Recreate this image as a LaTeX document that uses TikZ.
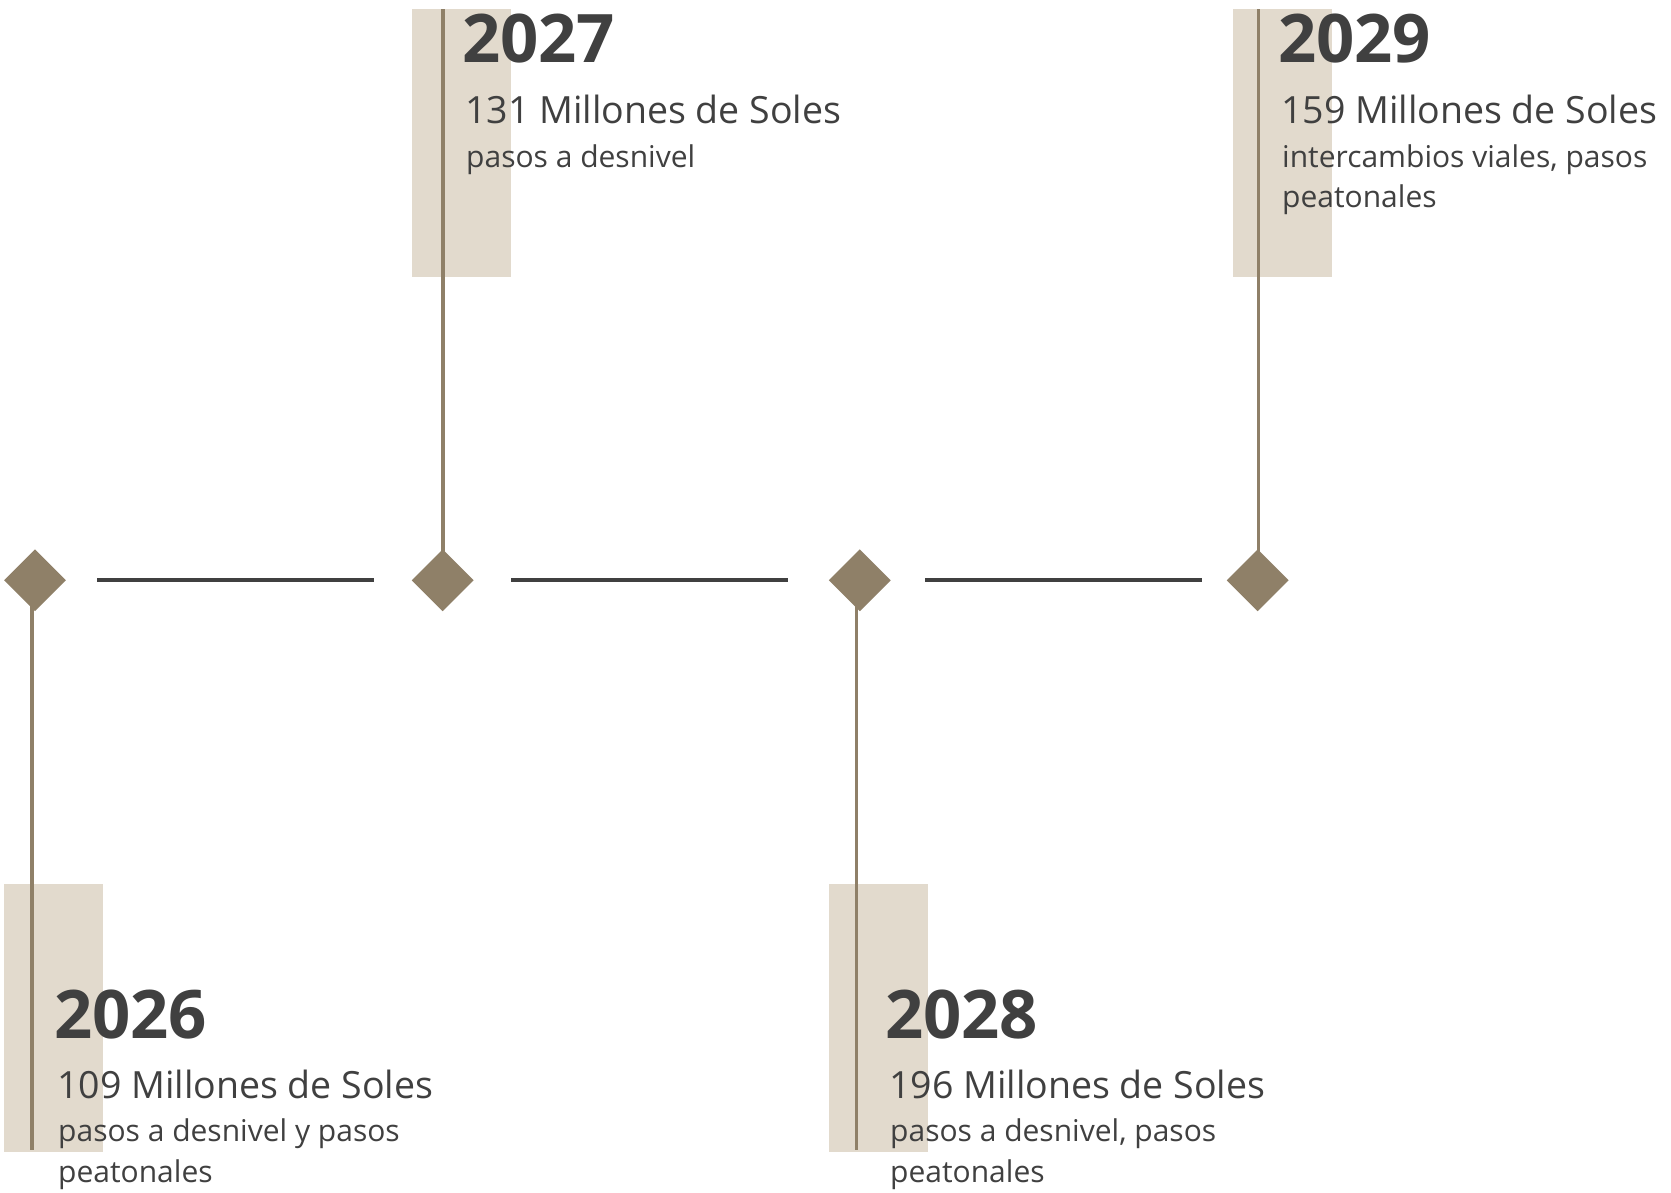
\documentclass[tikz,border=0pt]{standalone}
\usepackage{fontspec}
\setmainfont{Open Sans}
\usetikzlibrary{shapes.geometric}
\definecolor{gold}{HTML}{8F8068}
\definecolor{sand}{HTML}{E2DACD}
\definecolor{ink}{HTML}{404040}
\tikzset{
  band/.style={fill=sand, draw=none, inner sep=0pt, minimum width=99pt, minimum height=268pt},
  gem/.style={diamond, fill=gold, draw=none, inner sep=0pt, minimum width=62pt, minimum height=62pt},
  stem/.style={draw=gold, line width=3.5pt},
  hline/.style={draw=ink, line width=4pt},
  yeartxt/.style={anchor=base west, inner sep=0pt, text=ink, font=\fontsize{67}{67}\selectfont\bfseries},
  amttxt/.style={anchor=base west, inner sep=0pt, text=ink, font=\fontsize{37.5}{40}\selectfont},
  desctxt/.style={anchor=base west, inner sep=0pt, text=ink, font=\fontsize{30}{36}\selectfont}
}
\begin{document}
\begin{tikzpicture}[x=1pt,y=-1pt]
\useasboundingbox[fill=white] (0,0) rectangle (1671,1192);
% background bands
\node[band] (r26) at (53.5,1018) {};
\node[band] (r27) at (461.5,143) {};
\node[band] (r28) at (878.5,1018) {};
\node[band] (r29) at (1282.5,143) {};
% diamonds
\node[gem] (d26) at (35,580.3) {};
\node[gem] (d27) at (442.7,580.3) {};
\node[gem] (d28) at (859.8,580.3) {};
\node[gem] (d29) at (1257.7,580.3) {};
% stem ends
\coordinate (e26) at (32,1150);
\coordinate (e27) at (443,9);
\coordinate (e28) at (856.7,1150);
\coordinate (e29) at (1258.7,9);
\draw[stem] (d26.center -| e26) -- (e26);
\draw[stem] (d27.center -| e27) -- (e27);
\draw[stem] (d28.center -| e28) -- (e28);
\draw[stem] (d29.center -| e29) -- (e29);
% horizontal connectors
\draw[hline, shorten <=31pt, shorten >=37.7pt] (d26.east) -- (d27.west);
\draw[hline, shorten <=37.3pt, shorten >=41pt] (d27.east) -- (d28.west);
\draw[hline, shorten <=34.2pt, shorten >=25pt] (d28.east) -- (d29.west);
% 2027
\node[yeartxt] (y27) at (462,62) {2027};
\node[amttxt] (a27) at (465,123) {131 Millones de Soles};
\node[desctxt] (t27) at (466,167) {pasos a desnivel};
% 2029
\node[yeartxt] (y29) at (1278,62) {2029};
\node[amttxt] (a29) at (1281,123) {159 Millones de Soles};
\node[desctxt] (t29a) at (1282,167) {intercambios viales, pasos};
\node[desctxt] (t29b) at (1282,207) {peatonales};
% 2026
\node[yeartxt] (y26) at (54,1038) {2026};
\node[amttxt] (a26) at (57,1098) {109 Millones de Soles};
\node[desctxt] (t26a) at (58,1141) {pasos a desnivel y pasos};
\node[desctxt] (t26b) at (58,1182) {peatonales};
% 2028
\node[yeartxt] (y28) at (885,1038) {2028};
\node[amttxt] (a28) at (889,1098) {196 Millones de Soles};
\node[desctxt] (t28a) at (890,1141) {pasos a desnivel, pasos};
\node[desctxt] (t28b) at (890,1182) {peatonales};
\end{tikzpicture}
\end{document}
